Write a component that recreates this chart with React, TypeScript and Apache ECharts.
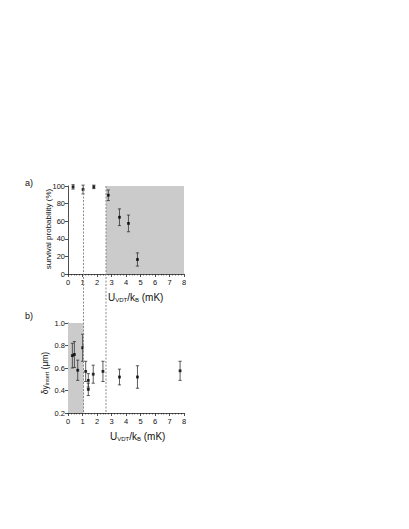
import React, { useEffect, useRef } from "react";
import * as echarts from "echarts";

// Panel a) survival probability
const xA = [0.35, 1.04, 1.78, 2.78, 3.55, 4.17, 4.79];
const yA = [99, 96, 99, 89.5, 64.5, 57.5, 16.5];
const eA = [2.5, 5, 2, 6, 9.5, 9.5, 7.5];

// Panel b) delta y insert
const xB = [0.3, 0.44, 0.67, 1.01, 1.22, 1.4, 1.4, 1.74, 2.41, 3.55, 4.79, 7.73];
const yB = [0.71, 0.72, 0.58, 0.78, 0.57, 0.49, 0.41, 0.545, 0.57, 0.52, 0.52, 0.575];
const eB = [0.11, 0.115, 0.09, 0.12, 0.09, 0.06, 0.055, 0.08, 0.09, 0.07, 0.1, 0.085];

// Thresholds (dashed lines) and shaded ranges
const vLines = [1.07, 2.62];
const shadeA: [number, number] = [2.62, 8];
const shadeB: [number, number] = [0, 1.07];

const xTicks = [0, 8, 1];
const yTicksA = [0, 100, 20];
const yTicksB = [0.2, 1.0, 0.2];

const FONT = "Liberation Sans, Arial, sans-serif";
const AXIS_COLOR = "#222";
const SHADE = "#cbcbcb";

function errRender(params: any, api: any) {
  const x = api.value(0);
  const y = api.value(1);
  const e = api.value(2);
  const hi = api.coord([x, y + e]);
  const lo = api.coord([x, y - e]);
  const w = 1.6;
  const st = { stroke: "#333", lineWidth: 0.8 };
  return {
    type: "group",
    children: [
      { type: "line", shape: { x1: hi[0], y1: hi[1], x2: lo[0], y2: lo[1] }, style: st },
      { type: "line", shape: { x1: hi[0] - w, y1: hi[1], x2: hi[0] + w, y2: hi[1] }, style: st },
      { type: "line", shape: { x1: lo[0] - w, y1: lo[1], x2: lo[0] + w, y2: lo[1] }, style: st },
    ],
  };
}

function xAxisCfg(gridIndex: number) {
  return {
    type: "value",
    gridIndex,
    min: xTicks[0],
    max: xTicks[1],
    interval: xTicks[2],
    axisLine: { show: true, onZero: false, lineStyle: { color: AXIS_COLOR, width: 0.8 } },
    axisTick: { show: true, length: 3, lineStyle: { color: AXIS_COLOR, width: 0.8 } },
    minorTick: { show: true, splitNumber: 5, length: 1.5, lineStyle: { color: AXIS_COLOR, width: 0.6 } },
    splitLine: { show: false },
    axisLabel: { fontSize: 7.5, color: "#111", fontFamily: FONT, margin: 4 },
  };
}

function yAxisCfg(gridIndex: number, t: number[], dec: number) {
  return {
    type: "value",
    gridIndex,
    min: t[0],
    max: t[1],
    interval: t[2],
    axisLine: { show: true, onZero: false, lineStyle: { color: AXIS_COLOR, width: 0.8 } },
    axisTick: { show: true, length: 3, lineStyle: { color: AXIS_COLOR, width: 0.8 } },
    minorTick: { show: false },
    splitLine: { show: false },
    axisLabel: {
      fontSize: 7.5,
      color: "#111",
      fontFamily: FONT,
      margin: 3,
      formatter: (v: number) => v.toFixed(dec),
    },
  };
}

export default function App() {
  const ref = useRef<HTMLDivElement>(null);
  useEffect(() => {
    if (!ref.current) return;
    const chart = echarts.init(ref.current, null, { renderer: "svg" });
    const dataA = xA.map((x, i) => [x, yA[i], eA[i]]);
    const dataB = xB.map((x, i) => [x, yB[i], eB[i]]);
    const option: any = {
      animation: false,
      backgroundColor: "#fff",
      grid: [
        { left: 68, top: 186, width: 116, height: 88 },
        { left: 68, top: 323, width: 116, height: 90 },
      ],
      xAxis: [xAxisCfg(0), xAxisCfg(1)],
      yAxis: [yAxisCfg(0, yTicksA, 0), yAxisCfg(1, yTicksB, 1)],
      series: [
        {
          type: "custom",
          xAxisIndex: 0,
          yAxisIndex: 0,
          renderItem: errRender,
          data: dataA,
          clip: false,
          z: 3,
          markArea: {
            silent: true,
            itemStyle: { color: SHADE },
            data: [[{ xAxis: shadeA[0], yAxis: yTicksA[0] }, { xAxis: shadeA[1], yAxis: yTicksA[1] }]],
          },
        },
        {
          type: "scatter",
          xAxisIndex: 0,
          yAxisIndex: 0,
          symbol: "rect",
          symbolSize: 2.8,
          itemStyle: { color: "#000" },
          data: dataA.map((d) => [d[0], d[1]]),
          z: 4,
        },
        {
          type: "custom",
          xAxisIndex: 1,
          yAxisIndex: 1,
          renderItem: errRender,
          data: dataB,
          clip: false,
          z: 3,
          markArea: {
            silent: true,
            itemStyle: { color: SHADE },
            data: [[{ xAxis: shadeB[0], yAxis: yTicksB[0] }, { xAxis: shadeB[1], yAxis: yTicksB[1] }]],
          },
        },
        {
          type: "scatter",
          xAxisIndex: 1,
          yAxisIndex: 1,
          symbol: "rect",
          symbolSize: 2.8,
          itemStyle: { color: "#000" },
          data: dataB.map((d) => [d[0], d[1]]),
          z: 4,
        },
      ],
    };
    chart.setOption(option);

    const yTop = chart.convertToPixel({ yAxisIndex: 0 } as any, yTicksA[1]) as number;
    const yBot = chart.convertToPixel({ yAxisIndex: 1 } as any, yTicksB[0]) as number;
    const lines = vLines.map((v) => {
      const px = chart.convertToPixel({ xAxisIndex: 0 } as any, v) as number;
      return {
        type: "line",
        z: 10,
        shape: { x1: px, y1: yTop, x2: px, y2: yBot },
        style: { stroke: "#8a8a8a", lineWidth: 1, lineDash: [2, 1.5] },
        silent: true,
      };
    });

    const xTitleRich = {
      n: { fontSize: 10, fontFamily: FONT, fill: "#111" },
      s: { fontSize: 6, fontFamily: FONT, fill: "#111", padding: [5, 0, 0, 0] },
    };

    chart.setOption({
      graphic: [
        ...lines,
        {
          type: "text",
          x: 25,
          y: 178,
          style: { text: "a)", font: `9px ${FONT}`, fill: "#111" },
        },
        {
          type: "text",
          x: 25,
          y: 311,
          style: { text: "b)", font: `9px ${FONT}`, fill: "#111" },
        },
        {
          type: "text",
          x: 48,
          y: 229,
          rotation: Math.PI / 2,
          style: {
            text: "survival probability (%)",
            font: `8px ${FONT}`,
            fill: "#111",
            align: "center",
            verticalAlign: "middle",
          },
        },
        {
          type: "text",
          x: 45,
          y: 373,
          rotation: Math.PI / 2,
          style: {
            text: "{n|δy}{s|insert}{n| (μm)}",
            rich: {
              n: { fontSize: 8.5, fontFamily: FONT, fill: "#111" },
              s: { fontSize: 5.5, fontFamily: FONT, fill: "#111", padding: [4, 0, 0, 0] },
            },
            align: "center",
            verticalAlign: "middle",
          },
        },
        {
          type: "text",
          x: 108,
          y: 292,
          style: { text: "{n|U}{s|VDT}{n|/k}{s|B}{n| (mK)}", rich: xTitleRich },
        },
        {
          type: "text",
          x: 110,
          y: 431,
          style: { text: "{n|U}{s|VDT}{n|/k}{s|B}{n| (mK)}", rich: xTitleRich },
        },
      ],
    });
    return () => chart.dispose();
  }, []);
  return (
    <div
      ref={ref}
      style={{ position: "absolute", left: 0, top: 0, width: 409, height: 529 }}
    />
  );
}
